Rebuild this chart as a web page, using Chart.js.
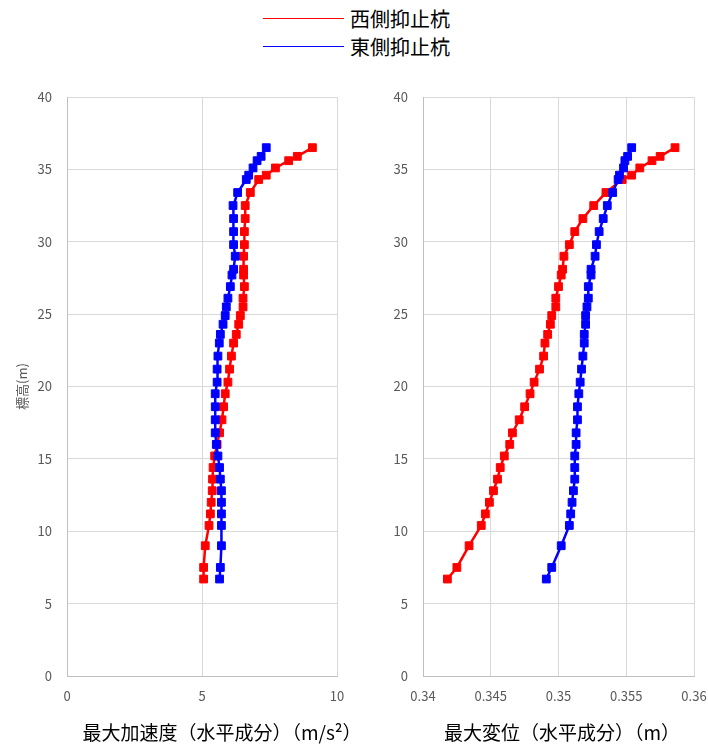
<!DOCTYPE html>
<html lang="ja">
<head>
<meta charset="utf-8">
<title>最大加速度・最大変位</title>
<script src="https://cdn.jsdelivr.net/npm/chart.js@4.4.1/dist/chart.umd.min.js"></script>
<style>
  body {
    margin: 0;
    background: #fff;
    font-family: "Noto Sans CJK JP", sans-serif;
  }
  #page {
    position: relative;
    width: 708px;
    height: 744px;
    overflow: hidden;
  }
  .box {
    position: absolute;
    top: 0;
    width: 354px;
    height: 744px;
  }
  .legend-row {
    position: absolute;
    left: 263px;
    height: 24px;
    display: flex;
    align-items: center;
    font-size: 20px;
    color: #000;
  }
  .legend-row span.line {
    display: inline-block;
    width: 81px;
    height: 0;
    border-top: 1.5px solid;
    margin-right: 6px;
  }
  .x-title {
    position: absolute;
    top: 722px;
    font-size: 19px;
    line-height: 19px;
    color: #000;
    white-space: nowrap;
    transform: translateX(-50%);
  }
</style>
</head>
<body>
<div id="page">
  <div class="legend-row" style="top: 6px"><span class="line" style="border-color: #ff0000"></span>西側抑止杭</div>
  <div class="legend-row" style="top: 34px"><span class="line" style="border-color: #0000ff"></span>東側抑止杭</div>

  <div class="box" style="left: 0"><canvas id="accel-chart"></canvas></div>
  <div class="box" style="left: 354px"><canvas id="disp-chart"></canvas></div>

  <div class="x-title" style="left: 222px">最大加速度（水平成分）（m/s²）</div>
  <div class="x-title" style="left: 562px">最大変位（水平成分）（m）</div>
</div>

<script>
// Elevation of each output node (m), bottom to top
const heights = [6.7, 7.5, 9.0, 10.4, 11.2, 12.0, 12.8, 13.6, 14.4, 15.2, 16.0, 16.8, 17.7, 18.6, 19.5, 20.3, 21.2, 22.1, 23.0, 23.6,
  24.3, 24.9, 25.5, 26.1, 26.9, 27.7, 28.1, 29.0, 29.8, 30.7, 31.6, 32.5, 33.4, 34.3, 34.6, 35.1, 35.6, 35.9, 36.5];

// Max horizontal acceleration (m/s2)
const accelWest = [5.06, 5.06, 5.12, 5.26, 5.31, 5.34, 5.38, 5.39, 5.41, 5.47, 5.56, 5.65, 5.74, 5.80, 5.86, 5.96, 6.02, 6.09, 6.17, 6.27,
  6.36, 6.42, 6.52, 6.52, 6.57, 6.54, 6.54, 6.54, 6.57, 6.57, 6.60, 6.60, 6.79, 7.10, 7.38, 7.72, 8.21, 8.53, 9.09];
const accelEast = [5.65, 5.68, 5.72, 5.72, 5.72, 5.72, 5.72, 5.68, 5.65, 5.59, 5.53, 5.49, 5.49, 5.49, 5.49, 5.56, 5.56, 5.59, 5.64, 5.68,
  5.78, 5.86, 5.90, 5.96, 6.05, 6.11, 6.17, 6.23, 6.17, 6.17, 6.17, 6.15, 6.32, 6.64, 6.73, 6.89, 7.04, 7.19, 7.38];

// Max horizontal displacement (m)
const dispWest = [0.3418, 0.3425, 0.3434, 0.3443, 0.3446, 0.3449, 0.3452, 0.3455, 0.3457, 0.3460, 0.3464, 0.3466, 0.3471, 0.3475, 0.3479,
  0.3482, 0.3486, 0.3489, 0.3490, 0.3492, 0.3494, 0.3495, 0.3498, 0.3498, 0.3500, 0.3502, 0.3503, 0.3504, 0.3508, 0.3512, 0.3518,
  0.3526, 0.3535, 0.3547, 0.3554, 0.3560, 0.3569, 0.3575, 0.3586];
const dispEast = [0.3491, 0.3495, 0.3502, 0.3508, 0.3509, 0.3510, 0.3511, 0.3512, 0.3512, 0.3512, 0.3513, 0.3513, 0.3514, 0.3514, 0.3515,
  0.3516, 0.3517, 0.3518, 0.3519, 0.3519, 0.3520, 0.3520, 0.3521, 0.3522, 0.3522, 0.3524, 0.3524, 0.3527, 0.3528, 0.3530, 0.3533,
  0.3536, 0.3540, 0.3544, 0.3545, 0.3548, 0.3549, 0.3551, 0.3554];

const seriesLabels = ["西側抑止杭", "東側抑止杭"];
const seriesColors = ["#ff0000", "#0000ff"];

Chart.defaults.font.family = "'Noto Sans CJK JP', sans-serif";
Chart.defaults.font.size = 13;
Chart.defaults.color = "#595959";

document.addEventListener("DOMContentLoaded", function () {
  initAccelChart();
  initDispChart();
});

// turn an x-array into scatter points against the heights
function toPoints(values) {
  return values.map((v, i) => ({ x: v, y: heights[i] }));
}

function makeDataset(index, values) {
  return {
    label: seriesLabels[index],
    data: toPoints(values),
    showLine: true,
    borderColor: seriesColors[index],
    backgroundColor: seriesColors[index],
    borderWidth: 2.5,
    pointStyle: "rect",
    pointRadius: 5.5,
    pointBorderWidth: 1,
    // east (blue) is drawn above west
    order: index === 1 ? 0 : 1,
  };
}

function heightAxis(width, showTitle) {
  return {
    type: "linear",
    min: 0,
    max: 40,
    ticks: { stepSize: 5, padding: 15 },
    grid: { color: "#d9d9d9", drawTicks: false },
    border: { color: "#bfbfbf" },
    title: {
      display: showTitle,
      text: "標高(m)",
      font: { size: 13 },
      padding: { top: 14 },
    },
    afterFit: function (scale) {
      scale.width = width;
    },
  };
}

// fixed-height x axis; the label overhang is already covered by layout padding
function fixXAxis(scale) {
  scale.height = 68;
  scale.paddingLeft = 0;
  scale.paddingRight = 0;
}

// Left: max acceleration
function initAccelChart() {
  new Chart(document.getElementById("accel-chart").getContext("2d"), {
    type: "scatter",
    data: {
      datasets: [makeDataset(0, accelWest), makeDataset(1, accelEast)],
    },
    options: {
      responsive: true,
      maintainAspectRatio: false,
      animation: false,
      devicePixelRatio: 1,
      layout: { padding: { top: 97, right: 17, left: 0, bottom: 0 } },
      plugins: { legend: { display: false }, tooltip: { enabled: false } },
      scales: {
        x: {
          type: "linear",
          min: 0,
          max: 10,
          ticks: { stepSize: 5, padding: 12 },
          grid: { color: "#d9d9d9", drawTicks: false },
          border: { color: "#bfbfbf" },
          afterFit: fixXAxis,
        },
        y: heightAxis(67, true),
      },
    },
  });
}

// Right: max displacement
function initDispChart() {
  new Chart(document.getElementById("disp-chart").getContext("2d"), {
    type: "scatter",
    data: {
      datasets: [makeDataset(0, dispWest), makeDataset(1, dispEast)],
    },
    options: {
      responsive: true,
      maintainAspectRatio: false,
      animation: false,
      devicePixelRatio: 1,
      layout: { padding: { top: 97, right: 14, left: 0, bottom: 0 } },
      plugins: { legend: { display: false }, tooltip: { enabled: false } },
      scales: {
        x: {
          type: "linear",
          min: 0.34,
          max: 0.36,
          ticks: {
            stepSize: 0.005,
            padding: 12,
            callback: function (value) {
              return String(+value.toFixed(3));
            },
          },
          grid: { color: "#d9d9d9", drawTicks: false },
          border: { color: "#bfbfbf" },
          afterFit: fixXAxis,
        },
        y: heightAxis(69, false),
      },
    },
  });
}
</script>
</body>
</html>
